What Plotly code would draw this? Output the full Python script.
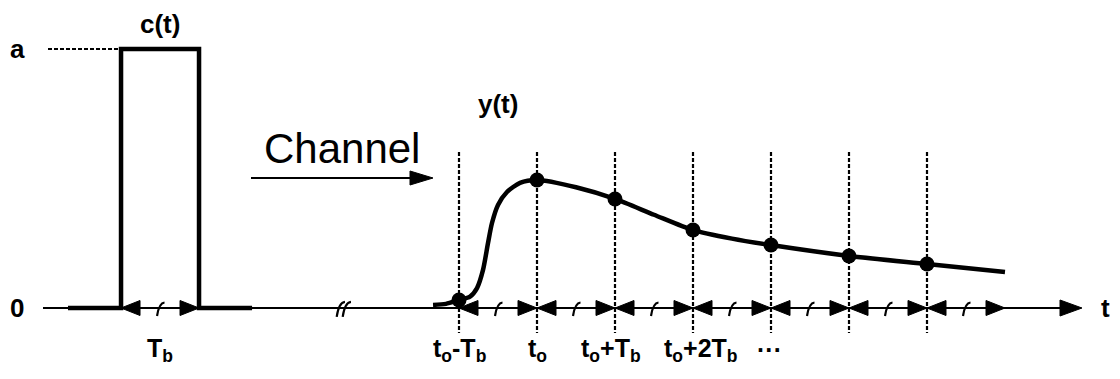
import plotly.graph_objects as go

# ---------------- data (time in units of Tb, amplitude in units of a) ----------------
pulse_start = -5.333          # c(t) rises at this time
pulse_width = 1.0             # Tb
pulse_amp = 1.0               # a

sample_t = [-1, 0, 1, 2, 3, 4, 5]                      # t_o-Tb ... t_o+5Tb
sample_y = [0.031, 0.494, 0.421, 0.301, 0.243, 0.201, 0.170]

curve_t = [-1.333, -1.167, -1.0, -0.859, -0.769, -0.692, -0.628, -0.577, -0.5,
           -0.385, -0.218, 0.0, 0.5, 1.0, 1.5, 2.0, 2.5, 3.0, 4.0, 5.0, 6.0]
curve_y = [0.012, 0.016, 0.031, 0.044, 0.077, 0.147, 0.251, 0.328, 0.398,
           0.448, 0.483, 0.494, 0.466, 0.421, 0.360, 0.301, 0.268, 0.243, 0.201, 0.170, 0.139]

tick_t = [-1, 0, 1, 2, 3]
tick_labels = ["t<sub>o</sub>-T<sub>b</sub>", "t<sub>o</sub>", "t<sub>o</sub>+T<sub>b</sub>",
               "t<sub>o</sub>+2T<sub>b</sub>", "···"]
tick_shift = [0, 0, -4, 8, -2]      # px nudges of label centres

# ---------------- geometry helpers ----------------
OFF = 8                  # page body margin
W, H = 1120 - 2 * OFF, 379 - 2 * OFF
X0PX, SX = 537, 78.0     # pixel of t=0, px per Tb
Y0PX, SY = 308, 259.0    # pixel of y=0, px per a
DX, DY = 1 / SX, 1 / SY  # data units per pixel
xr = [(OFF - X0PX) / SX, (OFF + W - X0PX) / SX]
yr = [(Y0PX - (OFF + H)) / SY, (Y0PX - OFF) / SY]


def PX(p):
    return (p - X0PX) * DX


def PY(p):
    return (Y0PX - p) * DY


FONT = "Arial, 'Liberation Sans', sans-serif"
BLACK = "#000000"

fig = go.Figure()
shapes = []
annots = []


def tri(tip_x, tip_y, direction, L=19, h=7.5):
    """filled triangle arrowhead with tip at (tip_x, tip_y), direction +1 right, -1 left"""
    bx = tip_x - direction * L * DX
    return dict(type="path", xref="x", yref="y",
                path=f"M {tip_x},{tip_y} L {bx},{tip_y + h*DY} L {bx},{tip_y - h*DY} Z",
                fillcolor=BLACK, line=dict(color=BLACK, width=1))


def squiggle(xc, yc, s=1.0):
    p0 = (xc - 3.0 * s * DX, yc - 8 * s * DY)
    p1 = (xc - 1.0 * s * DX, yc + 5 * s * DY)
    p2 = (xc + 4.5 * s * DX, yc + 5.5 * s * DY)
    return dict(type="path", xref="x", yref="y",
                path=f"M {p0[0]},{p0[1]} Q {p1[0]},{p1[1]} {p2[0]},{p2[1]}",
                line=dict(color=BLACK, width=2.2))


# main time axis (thin) with arrow
ax_left = PX(43)
ax_tip = PX(1082)
fig.add_trace(go.Scatter(x=[ax_left, ax_tip - 10 * DX], y=[0, 0], mode="lines",
                         line=dict(color=BLACK, width=2), hoverinfo="skip"))
shapes.append(tri(ax_tip, 0, +1, L=22, h=8))

# pulse c(t) with thick baseline stubs
stub = 0.68 * pulse_width
p0, p1 = pulse_start, pulse_start + pulse_width
fig.add_trace(go.Scatter(x=[p0 - stub, p0, p0, p1, p1, p1 + stub],
                         y=[0, 0, pulse_amp, pulse_amp, 0, 0], mode="lines",
                         line=dict(color=BLACK, width=4.5), hoverinfo="skip"))
# dashed level 'a'
fig.add_trace(go.Scatter(x=[PX(48), p0], y=[pulse_amp, pulse_amp], mode="lines",
                         line=dict(color=BLACK, width=2, dash="4px,2px"), hoverinfo="skip"))

# vertical dashed sample lines
for t in sample_t:
    shapes.append(dict(type="line", xref="x", yref="y", x0=t, x1=t,
                       y0=PY(152), y1=PY(333),
                       line=dict(color=BLACK, width=2.2, dash="4px,2px")))

# double arrows with squiggles in each Tb interval
intervals = [(p0, p1)] + [(t, t + 1) for t in sample_t]
for a, b in intervals:
    shapes.append(tri(a, 0, -1))
    shapes.append(tri(b, 0, +1))
    shapes.append(squiggle((a + b) / 2, 0))

# axis break mark
bx = PX(343)
shapes.append(squiggle(bx - 3 * DX, 0, 1.1))
shapes.append(squiggle(bx + 3 * DX, 0, 1.1))

# received pulse y(t)
fig.add_trace(go.Scatter(x=curve_t, y=curve_y, mode="lines",
                         line=dict(color=BLACK, width=4.5, shape="spline", smoothing=0.7),
                         hoverinfo="skip"))
fig.add_trace(go.Scatter(x=sample_t, y=sample_y, mode="markers",
                         marker=dict(color=BLACK, size=15), hoverinfo="skip"))

# Channel arrow
ch_y = PY(178)
ch_x0, ch_tip = PX(251), PX(433)
fig.add_trace(go.Scatter(x=[ch_x0, ch_tip - 10 * DX], y=[ch_y, ch_y], mode="lines",
                         line=dict(color=BLACK, width=2), hoverinfo="skip"))
shapes.append(tri(ch_tip, ch_y, +1, L=23, h=7))


# ---------------- text ----------------
def txt(x, y, s, size, bold=True, **kw):
    annots.append(dict(x=x, y=y, xref="x", yref="y", text=f"<b>{s}</b>" if bold else s,
                       showarrow=False, font=dict(family=FONT, size=size, color=BLACK), **kw))


txt(PX(17), pulse_amp, "a", 26)
txt(PX(17), 0, "0", 26)
txt(p0 + pulse_width / 2, PY(24), "c(t)", 26)
txt(PX(498), PY(104), "y(t)", 26)
txt(PX(1105), 0, "t", 26)
lab_y = PY(350)
txt(p0 + pulse_width / 2, lab_y, "T<sub>b</sub>", 25)
for t, s, sh in zip(tick_t, tick_labels, tick_shift):
    txt(t, lab_y, s, 25, xshift=sh)
txt(PX(342), PY(148), "Channel", 42, bold=False)

fig.update_layout(
    width=W, height=H, margin=dict(l=0, r=0, t=0, b=0),
    paper_bgcolor="white", plot_bgcolor="white", showlegend=False,
    xaxis=dict(range=xr, visible=False, fixedrange=True),
    yaxis=dict(range=yr, visible=False, fixedrange=True),
    shapes=shapes, annotations=annots,
)
fig.write_html("out.html")
